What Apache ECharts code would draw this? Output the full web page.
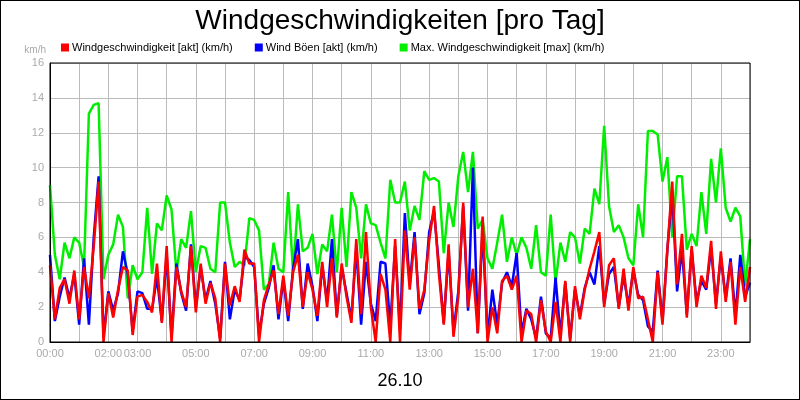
<!DOCTYPE html>
<html>
<head>
<meta charset="utf-8">
<script src="https://cdn.jsdelivr.net/npm/echarts@6/dist/echarts.min.js"></script>
<style>
  html, body { margin: 0; padding: 0; background: #fff; }
  #chart { width: 798px; height: 398px; border: 1px solid #000; }
</style>
</head>
<body>
<div id="chart"></div>
<script>
///////////////////////////////////////////////////
// Used data (10-minute steps, 00:00 .. 24:00)
///////////////////////////////////////////////////

var labeledHours = [0, 2, 3, 5, 7, 9, 11, 13, 15, 17, 19, 21, 23];

var windAkt = [
  4.4, 1.3, 3.1, 3.6, 2.2, 4.1,
  1.3, 4.3, 2.5, 5.5, 9.2, 0.0,
  2.8, 1.4, 3.0, 4.3, 4.1, 0.4,
  2.6, 2.7, 2.3, 1.7, 4.5, 1.1,
  5.5, 0.0, 4.3, 2.9, 2.0, 5.5,
  1.7, 4.5, 2.2, 3.4, 2.5, 0.0,
  4.5, 2.1, 3.2, 2.3, 5.3, 4.5,
  4.5, 0.0, 2.4, 3.3, 4.1, 1.6,
  3.8, 1.5, 4.0, 5.0, 2.0, 4.0,
  3.0, 1.5, 4.6, 2.0, 4.8, 1.4,
  4.5, 2.6, 1.1, 5.9, 1.6, 6.3,
  2.0, 0.0, 3.9, 3.0, 0.0, 5.9,
  0.0, 6.4, 3.0, 6.0, 1.9, 3.0,
  5.8, 7.8, 3.9, 1.0, 5.6, 0.3,
  2.6, 8.0, 2.0, 4.2, 0.5, 7.2,
  0.0, 2.0, 0.5, 3.5, 3.8, 3.0,
  3.8, 0.0, 1.8, 1.6, 0.0, 2.4,
  0.6, 0.0, 2.3, 0.0, 3.5, 0.0,
  3.2, 1.3, 3.0, 4.2, 5.2, 6.3,
  2.0, 4.4, 4.8, 1.9, 4.2, 1.8,
  4.3, 2.5, 2.6, 1.3, 0.0, 4.0,
  1.0, 5.3, 9.2, 3.3, 6.2, 1.4,
  5.5, 2.0, 3.8, 3.1, 5.8, 1.9,
  5.2, 2.3, 4.6, 1.0, 4.3, 2.3,
  4.3
];

var windBoen = [
  5.0, 1.2, 2.6, 3.7, 2.5, 3.9,
  1.0, 4.8, 1.0, 6.0, 9.5, 0.3,
  2.9, 1.8, 2.8, 5.2, 3.9, 0.6,
  2.9, 2.8, 1.9, 1.9, 3.7, 1.2,
  5.0, 0.3, 4.5, 2.8, 1.8, 5.6,
  2.0, 4.3, 2.4, 3.5, 2.2, 0.2,
  4.6, 1.3, 3.0, 2.4, 4.9, 4.7,
  4.3, 0.4, 2.2, 3.1, 4.4, 1.3,
  3.6, 1.2, 4.2, 5.9, 1.9, 4.5,
  3.2, 1.2, 4.4, 2.3, 5.9, 1.5,
  4.3, 2.8, 1.3, 5.4, 1.0, 4.6,
  2.2, 1.2, 4.6, 4.5, 0.9, 5.5,
  0.7, 7.4, 3.3, 6.3, 1.6, 2.8,
  6.3, 7.5, 4.4, 1.1, 5.2, 0.6,
  2.9, 7.8, 1.8, 10.0, 0.5, 6.5,
  0.3, 3.0, 1.0, 3.4, 4.0, 3.2,
  5.1, 0.5, 1.9, 1.3, 0.2, 2.6,
  0.5, 0.2, 3.7, 0.4, 3.4, 0.2,
  3.0, 1.5, 3.1, 4.0, 3.3, 5.5,
  2.2, 3.9, 4.3, 2.0, 3.8, 2.1,
  4.1, 2.7, 2.4, 0.9, 0.6, 4.1,
  1.2, 5.3, 8.6, 2.9, 5.3, 1.6,
  5.3, 2.3, 3.5, 3.0, 5.4, 2.2,
  4.9, 2.5, 4.8, 1.5, 5.0, 2.6,
  3.4
];

var windMax = [
  9.0, 5.0, 3.6, 5.7, 4.8, 6.0,
  5.7, 4.3, 13.1, 13.6, 13.7, 3.6,
  5.0, 5.6, 7.3, 6.6, 2.5, 4.4,
  3.6, 4.0, 7.7, 3.9, 6.8, 6.4,
  8.4, 7.6, 4.0, 5.9, 5.4, 7.5,
  4.0, 5.5, 5.4, 4.2, 4.0, 8.0,
  8.0, 5.7, 4.3, 4.6, 4.4, 7.1,
  7.0, 6.4, 3.0, 3.3, 5.7, 4.2,
  4.0, 8.6, 4.0, 7.9, 5.2, 5.4,
  6.2, 3.9, 5.6, 5.2, 7.3, 4.0,
  7.7, 4.3, 8.6, 7.7, 4.8, 7.9,
  6.8, 6.7, 5.7, 4.8, 9.3, 8.0,
  8.0, 9.2, 6.4, 7.8, 7.0, 9.8,
  9.3, 9.4, 9.2, 5.1, 8.0, 6.6,
  9.5, 10.9, 8.6, 10.9, 6.5, 7.0,
  4.8, 4.2, 5.7, 7.3, 4.6, 6.0,
  5.0, 6.0, 5.4, 4.2, 6.7, 4.0,
  3.8, 7.3, 3.4, 5.7, 4.6, 6.3,
  6.0, 4.5, 6.5, 6.2, 8.8, 7.9,
  12.4, 7.8, 6.3, 6.7, 6.0, 4.8,
  4.4, 7.9, 6.0, 12.1, 12.1, 11.9,
  9.2, 10.6, 6.0, 9.5, 9.5, 5.3,
  6.2, 5.5, 8.6, 6.2, 10.5, 8.0,
  11.1, 7.7, 6.9, 7.7, 7.2, 3.2,
  5.9
];

var times = windAkt.map(function (v, i) {
  var h = Math.floor(i / 6), m = (i % 6) * 10;
  return (h < 10 ? '0' : '') + h + ':' + (m < 10 ? '0' : '') + m;
});

///////////////////////////////////////////////////
// Chart
///////////////////////////////////////////////////
var font = '"Liberation Sans", Arial, sans-serif';
var myChart = echarts.init(document.getElementById('chart'));

function lineSeries(name, data, color) {
  return {
    name: name,
    type: 'line',
    data: data,
    symbol: 'none',
    lineStyle: { color: color, width: 2.5 },
    itemStyle: { color: color },
  };
}

myChart.setOption({
  animation: false,
  textStyle: { fontFamily: font },
  title: [
    {
      text: 'Windgeschwindigkeiten [pro Tag]',
      left: 'center', top: 1,
      textStyle: { fontSize: 28, fontWeight: 'normal', color: '#000', fontFamily: font },
    },
    {
      text: '26.10',
      left: 'center', top: 366,
      textStyle: { fontSize: 18, fontWeight: 'normal', color: '#000', fontFamily: font },
    },
  ],
  legend: {
    left: 55, top: 36,
    icon: 'rect',
    itemWidth: 8, itemHeight: 8, itemGap: 22,
    textStyle: { fontSize: 11, color: '#000', fontFamily: font, padding: [0, 0, 0, -2] },
    data: ['Windgeschwindigkeit [akt] (km/h)', 'Wind Böen [akt] (km/h)', 'Max. Windgeschwindigkeit [max] (km/h)'],
  },
  grid: { left: 49, right: 49, top: 62, bottom: 57 },
  xAxis: {
    type: 'category',
    data: times,
    boundaryGap: false,
    axisLine: { lineStyle: { color: '#000', width: 1 } },
    axisTick: { show: false },
    axisLabel: {
      color: '#aaa', fontSize: 11, margin: 6,
      interval: function (i) { return i % 6 === 0 && labeledHours.indexOf(i / 6) >= 0; },
    },
    splitLine: {
      show: true, lineStyle: { color: '#bbb', width: 1 },
      interval: function (i) { return i % 6 === 0; },
    },
  },
  yAxis: {
    type: 'value',
    min: 0, max: 16, interval: 2,
    name: 'km/h',
    nameLocation: 'end',
    nameGap: 8,
    nameTextStyle: { color: '#aaa', fontSize: 10, align: 'right', padding: [0, 4, 0, 0] },
    axisLine: { show: true, lineStyle: { color: '#000' } },
    axisTick: { show: false },
    axisLabel: { color: '#aaa', fontSize: 11, margin: 6 },
    splitLine: { lineStyle: { color: '#bbb', width: 1 } },
  },
  series: [
    lineSeries('Max. Windgeschwindigkeit [max] (km/h)', windMax, '#00ee00'),
    lineSeries('Wind Böen [akt] (km/h)', windBoen, '#0000ff'),
    lineSeries('Windgeschwindigkeit [akt] (km/h)', windAkt, '#ff0000'),
  ],
  graphic: [{
    type: 'rect', silent: true, z: 100,
    shape: { x: 49, y: 62, width: 700, height: 279 },
    style: { fill: 'none', stroke: '#000', lineWidth: 1 },
  }],
});
</script>
</body>
</html>
